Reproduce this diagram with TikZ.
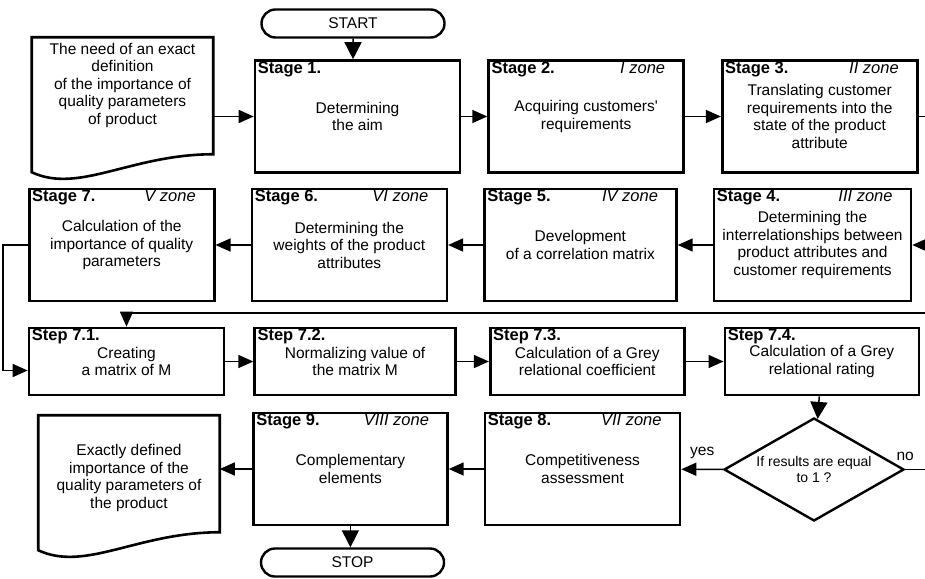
\documentclass[tikz,border=0pt]{standalone}
\usepackage{fontspec}
\setmainfont{Liberation Sans}
\usepackage{tikz}
\usetikzlibrary{shapes.geometric,shapes.misc,arrows.meta,positioning}

\begin{document}
\begin{tikzpicture}[
  x=1pt, y=-1pt,
  font=\fontsize{15.5}{17.5}\selectfont,
  line width=1.5pt,
  >={Triangle[length=15pt,width=13pt]},
  stage/.style={draw, line width=2.6pt, minimum width=195pt, minimum height=112pt, inner sep=0pt, align=center},
  stepbox/.style={stage, minimum height=67pt},
  hdr/.style={anchor=north west, inner xsep=3.5pt, inner ysep=2pt, font=\fontsize{16.5}{18}\selectfont\bfseries},
  zn/.style={anchor=north east, inner xsep=19pt, inner ysep=2pt, font=\fontsize{16.5}{18}\selectfont\itshape},
  term/.style={draw, line width=2.4pt, rounded rectangle, minimum width=183pt, minimum height=28pt, inner sep=0pt},
  doc/.style={minimum width=180pt, inner sep=0pt, align=center},
  decision/.style={draw, line width=2.4pt, diamond, aspect=1.75, minimum width=180pt, minimum height=103pt,
                   inner sep=0pt, align=center, font=\fontsize{14}{16}\selectfont},
  bigtip/.style={-{Triangle[length=17pt,width=17pt]}}
]
\useasboundingbox (0,0) rectangle (925,578);

% Start and input
\node[term] (start) at (353,23.5) {START};
\node[doc, minimum height=94pt] (need) at (122.5,85) {The need of an exact\\definition\\of the importance of\\quality parameters\\of product};

% Stages 1-3
\node[stage, minimum width=205pt, label={[hdr]north west:Stage 1.}] (s1) at (357.5,116.5) {Determining\\the aim};
\node[stage, right=26pt of s1, label={[hdr]north west:Stage 2.}, label={[zn]north east:I zone}] (s2) {Acquiring customers\textquotesingle\\requirements};
\node[stage, right=36pt of s2, label={[hdr]north west:Stage 3.}, label={[zn]north east:II zone}] (s3) {Translating customer\\requirements into the\\state of the product\\attribute};

% Stages 4-7
\node[stage, minimum width=197pt, label={[hdr]north west:Stage 4.}, label={[zn]north east:III zone}] (s4) at (812.5,245) {Determining the\\interrelationships between\\product attributes and\\customer requirements};
\node[stage, left=35pt of s4, minimum width=192pt, label={[hdr]north west:Stage 5.}, label={[zn]north east:IV zone}] (s5) {Development\\of a correlation matrix};
\node[stage, left=35pt of s5, label={[hdr]north west:Stage 6.}, label={[zn]north east:VI zone}] (s6) {Determining the\\weights of the product\\attributes};
\node[stage, left=35pt of s6, minimum width=185pt, label={[hdr]north west:Stage 7.}, label={[zn]north east:V zone}] (s7) {Calculation of the\\importance of quality\\parameters};

% Steps 7.1-7.4
\node[stepbox, label={[hdr]north west:Step 7.1.}] (m1) at (126.5,361.5) {Creating\\a matrix of M};
\node[stepbox, right=28pt of m1, minimum width=201pt, label={[hdr]north west:Step 7.2.}] (m2) {Normalizing value of\\the matrix M};
\node[stepbox, right=32pt of m2, minimum width=194pt, label={[hdr]north west:Step 7.3.}] (m3) {Calculation of a Grey\\relational coefficient};
\node[stepbox, right=38pt of m3, minimum width=194pt, label={[hdr]north west:Step 7.4.}] (m4) {Calculation of a Grey\\relational rating};

% Decision, stages 8-9, output
\node[decision] (dec) at (814,469.5) {If results are equal\\to 1 ?};
\node[stage, label={[hdr]north west:Stage 8.}, label={[zn]north east:VII zone}] (s8) at (582.5,469) {Competitiveness\\assessment};
\node[stage, left=35pt of s8, minimum width=194pt, label={[hdr]north west:Stage 9.}, label={[zn]north east:VIII zone}] (s9) {Complementary\\elements};
\node[doc, minimum height=124pt] (result) at (129,478) {Exactly defined\\importance of the\\quality parameters of\\the product};
\node[term] (stop) at (352.5,562.5) {STOP};

% Document outlines
\foreach \d in {need,result}
  \draw[line width=2.6pt] (\d.north west) -- (\d.north east) -- ([yshift=-117pt]\d.north east)
    .. controls ([xshift=-82pt,yshift=-117pt]\d.north east) and ([xshift=47pt,yshift=-157pt]\d.north west)
    .. ([yshift=-135pt]\d.north west) -- cycle;

% Free ends at the right border
\coordinate (r1) at (925,116.5);
\coordinate (r2) at (925,245);
\coordinate (r3) at (925,313);
\coordinate (r4) at (925,469.5);

% Connectors
\draw[bigtip] (start) -- (start |- s1.north);
\draw[->] (need.east |- s1) -- (s1);
\draw[->] (s1) -- (s2);
\draw[->] (s2) -- (s3);
\draw (s3) -- (r1);
\draw[->] (r2) -- (s4);
\draw[->] (s4) -- (s5);
\draw[->] (s5) -- (s6);
\draw[->] (s6) -- (s7);
\draw[->] (s7.west) -- ++(-25,0) |- ([yshift=-9pt]m1.west);
\draw[->] (r3) -| (m1);
\draw[->] (m1) -- (m2);
\draw[->] (m2) -- (m3);
\draw[->] (m3) -- (m4);
\draw[bigtip] (m4) -- (dec);
\draw[->] (dec) -- (s8) node[midway, above=6pt]{yes};
\draw (dec) -- (r4) node[pos=0, above=5pt]{no};
\draw[->] (s8) -- (s9);
\draw[->] (s9) -- (s9 -| result.east);
\draw[bigtip] (s9) -- (s9 |- stop.north);
\end{tikzpicture}
\end{document}
